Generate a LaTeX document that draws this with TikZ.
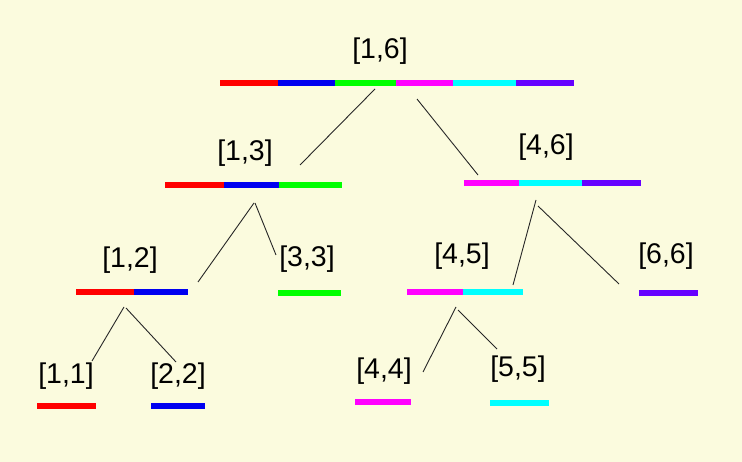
\documentclass[tikz,border=0pt]{standalone}
\usepackage{fontspec}
\setmainfont{Liberation Sans}
\definecolor{paper}{RGB}{251,251,222}
\definecolor{red6}{RGB}{255,0,0}
\definecolor{blue6}{RGB}{0,0,240}
\definecolor{green6}{RGB}{0,255,0}
\definecolor{magenta6}{RGB}{255,0,255}
\definecolor{cyan6}{RGB}{0,255,255}
\definecolor{violet6}{RGB}{102,0,255}
\tikzset{
  lbl/.style={inner sep=0pt, font=\fontsize{28.5}{34}\selectfont},
  bar/.style={line width=6pt},
  edge/.style={line width=0.9pt, black!85}
}

\begin{document}
\begin{tikzpicture}[x=1pt, y=-1pt]
  \fill[paper] (0,0) rectangle (742,462);
  \useasboundingbox (0,0) rectangle (742,462);

  % bars
  \draw[bar, red6]     (220,83) -- (278,83);
  \draw[bar, blue6]    (278,83) -- (335,83);
  \draw[bar, green6]   (335,83) -- (396,83);
  \draw[bar, magenta6] (396,83) -- (453,83);
  \draw[bar, cyan6]    (453,83) -- (516,83);
  \draw[bar, violet6]  (516,83) -- (574,83);

  \draw[bar, red6]     (165,185) -- (224,185);
  \draw[bar, blue6]    (224,185) -- (279,185);
  \draw[bar, green6]   (279,185) -- (342,185);
  \draw[bar, magenta6] (464,183) -- (519,183);
  \draw[bar, cyan6]    (519,183) -- (582,183);
  \draw[bar, violet6]  (582,183) -- (641,183);

  \draw[bar, red6]     (76,292)  -- (134,292);
  \draw[bar, blue6]    (134,292) -- (188,292);
  \draw[bar, green6]   (278,293) -- (341,293);
  \draw[bar, magenta6] (407,292) -- (463,292);
  \draw[bar, cyan6]    (463,292) -- (523,292);
  \draw[bar, violet6]  (639,293) -- (698,293);

  \draw[bar, red6]     (37,406)  -- (96,406);
  \draw[bar, blue6]    (151,406) -- (205,406);
  \draw[bar, magenta6] (355,402) -- (411,402);
  \draw[bar, cyan6]    (490,403) -- (549,403);

  % labels
  \node[lbl] (n16) at (380,51)  {[1,6]};
  \node[lbl] (n13) at (245,153) {[1,3]};
  \node[lbl] (n46) at (546,147) {[4,6]};
  \node[lbl] (n12) at (130,260) {[1,2]};
  \node[lbl] (n33) at (307,259) {[3,3]};
  \node[lbl] (n45) at (462,256) {[4,5]};
  \node[lbl] (n66) at (666,256) {[6,6]};
  \node[lbl] (n11) at (66,376)  {[1,1]};
  \node[lbl] (n22) at (178,376) {[2,2]};
  \node[lbl] (n44) at (384,371) {[4,4]};
  \node[lbl] (n55) at (518,369) {[5,5]};

  % line ends
  \coordinate (t16a) at (375,89);  \coordinate (b13) at (300,165);
  \coordinate (t16b) at (417,99);  \coordinate (b46) at (478,175);
  \coordinate (t13a) at (254,203); \coordinate (b12) at (198,282);
  \coordinate (t13b) at (255,203); \coordinate (b33) at (276,255);
  \coordinate (t46a) at (536,200); \coordinate (b45) at (513,285);
  \coordinate (t46b) at (538,206); \coordinate (b66) at (619,284);
  \coordinate (t12a) at (124,307); \coordinate (b11) at (92,361);
  \coordinate (t12b) at (126,308); \coordinate (b22) at (176,362);
  \coordinate (t45a) at (456,307); \coordinate (b44) at (423,372);
  \coordinate (t45b) at (458,310); \coordinate (b55) at (497,349);

  \draw[edge] (t16a) -- (b13);
  \draw[edge] (t16b) -- (b46);
  \draw[edge] (t13a) -- (b12);
  \draw[edge] (t13b) -- (b33);
  \draw[edge] (t46a) -- (b45);
  \draw[edge] (t46b) -- (b66);
  \draw[edge] (t12a) -- (b11);
  \draw[edge] (t12b) -- (b22);
  \draw[edge] (t45a) -- (b44);
  \draw[edge] (t45b) -- (b55);
\end{tikzpicture}
\end{document}
